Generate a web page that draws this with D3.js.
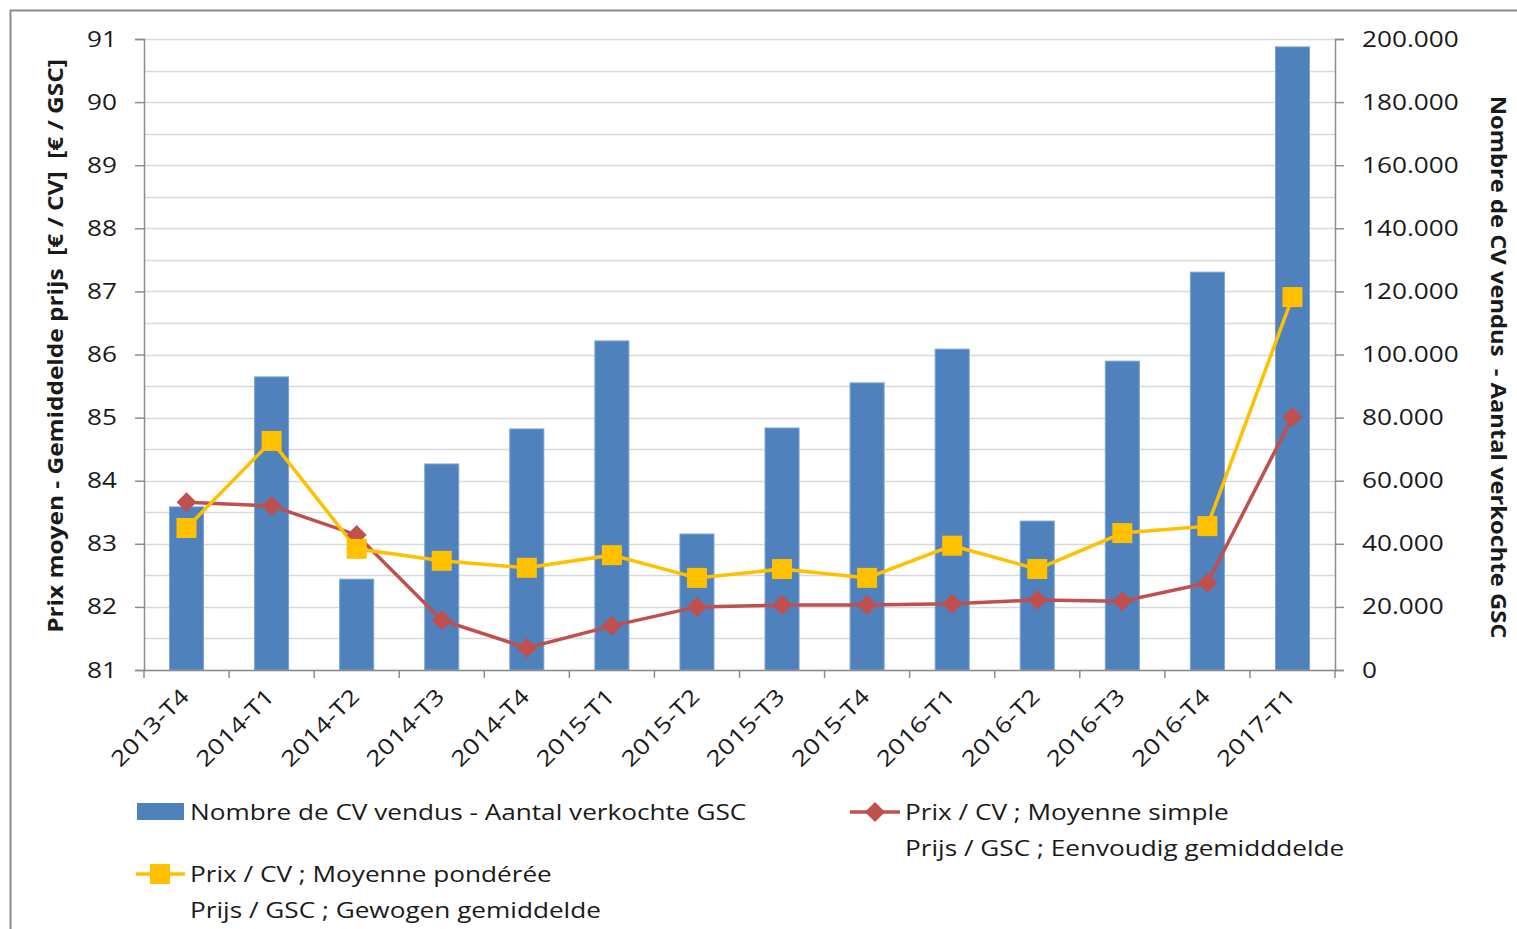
<!DOCTYPE html>
<html><head><meta charset="utf-8">
<script src="https://cdn.jsdelivr.net/npm/d3@7"></script>
<style>
body{margin:0;background:#fff;}
text{font-family:"Open Sans",sans-serif;fill:#1a1a1a;}
</style></head>
<body><svg id="c" width="1517" height="929"></svg>
<script>
const categories=["2013-T4","2014-T1","2014-T2","2014-T3","2014-T4","2015-T1","2015-T2","2015-T3","2015-T4","2016-T1","2016-T2","2016-T3","2016-T4","2017-T1"];
const volumes=[51700,92900,28800,65300,76400,104300,43100,76700,91000,101700,47200,97900,126100,197500];
const simpleAvg=[83.66,83.60,83.14,81.79,81.35,81.70,82.00,82.03,82.03,82.05,82.11,82.09,82.38,85.01];
const weightedAvg=[83.25,84.63,82.92,82.73,82.62,82.82,82.46,82.60,82.46,82.97,82.60,83.17,83.28,86.91];
const leftTicks=[81,82,83,84,85,86,87,88,89,90,91];
const rightTicks=[0,20000,40000,60000,80000,100000,120000,140000,160000,180000,200000];
const legendLabels=["Nombre de CV vendus - Aantal verkochte GSC",["Prix / CV ; Moyenne simple","Prijs / GSC ; Eenvoudig gemidddelde"],["Prix / CV ; Moyenne pondérée","Prijs / GSC ; Gewogen gemiddelde"]];

const svg=d3.select("#c");
const L=144,R=1335,T=39,B=670;
const blue="#4F81BD",red="#C0504D",yellow="#FFC000";
const FS=22, SX=1.19;

svg.append("path").attr("d","M10.5,929 L10.5,10.5 L1517,10.5").attr("fill","none").attr("stroke","#8c8c8c").attr("stroke-width",2);

const x=d3.scaleBand().domain(categories).range([L,R]).paddingInner(0.6).paddingOuter(0.3);
const xb=d3.scaleBand().domain(categories).range([L,R]);
const yL=d3.scaleLinear().domain([81,91]).range([B,T]);
const yR=d3.scaleLinear().domain([0,200000]).range([B,T]);

const grid=d3.range(81,91.01,0.5);
svg.append("g").selectAll("line").data(grid).join("line")
 .attr("x1",L).attr("x2",R).attr("y1",d=>Math.round(yL(d))+0.5).attr("y2",d=>Math.round(yL(d))+0.5)
 .attr("stroke","#d9d9d9").attr("stroke-width",1.5);

svg.append("g").selectAll("rect").data(volumes).join("rect")
 .attr("x",(d,i)=>x(categories[i])).attr("width",x.bandwidth())
 .attr("y",d=>yR(d)).attr("height",d=>B-yR(d))
 .attr("fill",blue).attr("stroke","#7aa3d4").attr("stroke-width",1);

const fmt=d=>d3.format(",")(d).replace(/,/g,".");
const gl=svg.append("g").attr("transform",`translate(${L},0)`).call(d3.axisLeft(yL).tickValues(leftTicks).tickSize(9).tickPadding(18).tickFormat(d3.format("d")));
const gr=svg.append("g").attr("transform",`translate(${R},0)`).call(d3.axisRight(yR).tickValues(rightTicks).tickSize(9).tickPadding(18).tickFormat(fmt));
const gb=svg.append("g").attr("transform",`translate(0,${B})`).call(d3.axisBottom(xb).tickValues([]).tickSizeOuter(0));
svg.append("g").selectAll("line").data(d3.range(categories.length+1)).join("line")
 .attr("x1",i=>L+i*xb.step()).attr("x2",i=>L+i*xb.step()).attr("y1",B).attr("y2",B+8)
 .attr("stroke","#8c8c8c").attr("stroke-width",1.5);
[gl,gr,gb].forEach(g=>{g.selectAll(".domain").attr("stroke","#8c8c8c").attr("stroke-width",1.5);g.selectAll(".tick line").attr("stroke","#8c8c8c").attr("stroke-width",1.5);
 g.selectAll("text").attr("font-size",FS).attr("fill","#1a1a1a").attr("font-family","Open Sans, sans-serif")
  .each(function(){const t=d3.select(this);const xx=+t.attr("x");t.attr("x",xx/SX).attr("transform",`scale(${SX},1)`);});});

svg.append("g").selectAll("text").data(categories).join("text")
 .attr("transform",d=>`translate(${xb(d)+xb.bandwidth()/2+4},${B+28}) rotate(-45) scale(${SX+0.02},1)`)
 .attr("text-anchor","end").attr("font-size",FS).text(d=>d);

const lineGen=yS=>d3.line().x((d,i)=>xb(categories[i])+xb.bandwidth()/2).y(d=>yS(d));
svg.append("path").datum(simpleAvg).attr("d",lineGen(yL)).attr("fill","none").attr("stroke",red).attr("stroke-width",3.5);
svg.append("path").datum(weightedAvg).attr("d",lineGen(yL)).attr("fill","none").attr("stroke",yellow).attr("stroke-width",3.5);
const diamond="M0,-10L10,0L0,10L-10,0Z";
svg.append("g").selectAll("path").data(simpleAvg).join("path")
 .attr("d",diamond)
 .attr("transform",(d,i)=>`translate(${xb(categories[i])+xb.bandwidth()/2},${yL(d)})`).attr("fill",red);
svg.append("g").selectAll("rect").data(weightedAvg).join("rect")
 .attr("x",(d,i)=>xb(categories[i])+xb.bandwidth()/2-10).attr("y",d=>yL(d)-10).attr("width",20).attr("height",20).attr("fill",yellow);

svg.append("text").attr("transform","translate(63,346) rotate(-90) scale(1.11,1)").attr("text-anchor","middle").attr("font-size",FS).attr("font-weight","bold")
 .attr("xml:space","preserve").text("Prix moyen - Gemiddelde prijs  [€ / CV]  [€ / GSC]");
svg.append("text").attr("transform","translate(1491,367) rotate(90) scale(1.08,1)").attr("text-anchor","middle").attr("font-size",FS).attr("font-weight","bold")
 .attr("xml:space","preserve").text("Nombre de CV vendus  - Aantal verkochte GSC");

const lg=svg.append("g");
const ltext=(x0,y0,s)=>lg.append("text").attr("transform",`translate(${x0},${y0}) scale(${SX},1)`).attr("font-size",FS).text(s);
lg.append("rect").attr("x",137).attr("y",803).attr("width",47).attr("height",17).attr("fill",blue);
ltext(190,820,legendLabels[0]);
lg.append("line").attr("x1",850).attr("x2",900).attr("y1",812).attr("y2",812).attr("stroke",red).attr("stroke-width",3.5);
lg.append("path").attr("d",diamond).attr("transform","translate(875,812)").attr("fill",red);
ltext(905,820,legendLabels[1][0]);
ltext(905,856,legendLabels[1][1]);
lg.append("line").attr("x1",136).attr("x2",185).attr("y1",874).attr("y2",874).attr("stroke",yellow).attr("stroke-width",3.5);
lg.append("rect").attr("x",150).attr("y",864).attr("width",20).attr("height",20).attr("fill",yellow);
ltext(190,882,legendLabels[2][0]);
ltext(190,918,legendLabels[2][1]);
</script></body></html>
